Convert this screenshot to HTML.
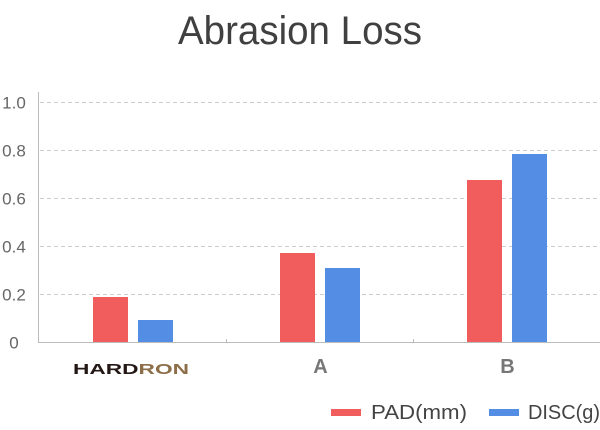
<!DOCTYPE html>
<html>
<head>
<meta charset="utf-8">
<style>
  html, body { margin: 0; padding: 0; background: #ffffff; }
  body { width: 600px; height: 430px; overflow: hidden; }
  svg { display: block; }
</style>
</head>
<body>
<svg width="600" height="430" viewBox="0 0 600 430" xmlns="http://www.w3.org/2000/svg">
  <rect x="0" y="0" width="600" height="430" fill="#ffffff"/>

  <!-- Title -->
  <text x="178" y="44" font-family="Liberation Sans, sans-serif" font-size="40" fill="#404040" textLength="244" lengthAdjust="spacingAndGlyphs">Abrasion Loss</text>

  <!-- Grid lines -->
  <g stroke="#cccccc" stroke-width="1" stroke-dasharray="4 3">
    <line x1="40" y1="102.5" x2="600" y2="102.5"/>
    <line x1="40" y1="150.5" x2="600" y2="150.5"/>
    <line x1="40" y1="198.5" x2="600" y2="198.5"/>
    <line x1="40" y1="246.5" x2="600" y2="246.5"/>
    <line x1="40" y1="294.5" x2="600" y2="294.5"/>
  </g>

  <!-- Y axis -->
  <line x1="38.5" y1="92" x2="38.5" y2="342.5" stroke="#bbbbbb" stroke-width="1"/>
  <!-- X axis -->
  <line x1="38" y1="342.5" x2="600" y2="342.5" stroke="#bbbbbb" stroke-width="1"/>
  <g stroke="#bbbbbb" stroke-width="1">
    <line x1="226.5" y1="339" x2="226.5" y2="342"/>
    <line x1="413.5" y1="339" x2="413.5" y2="342"/>
  </g>

  <!-- Y tick labels -->
  <g font-family="Liberation Sans, sans-serif" font-size="17" fill="#666666" text-anchor="middle">
    <text x="14" y="108.5">1.0</text>
    <text x="14" y="156.5">0.8</text>
    <text x="14" y="204.5">0.6</text>
    <text x="14" y="252.5">0.4</text>
    <text x="14" y="300.5">0.2</text>
    <text x="14" y="348.5">0</text>
  </g>

  <!-- Bars -->
  <g fill="#f15d5d">
    <rect x="93" y="297" width="35" height="45"/>
    <rect x="280" y="253" width="35" height="89"/>
    <rect x="467" y="180" width="35" height="162"/>
  </g>
  <g fill="#548ee4">
    <rect x="138" y="320" width="35" height="22"/>
    <rect x="325" y="268" width="35" height="74"/>
    <rect x="512" y="154" width="35" height="188"/>
  </g>

  <!-- Category labels -->
  <text x="73" y="374" font-family="Liberation Sans, sans-serif" font-weight="bold" font-size="15" textLength="116" lengthAdjust="spacingAndGlyphs"><tspan fill="#231815">HARD</tspan><tspan fill="#8c6e48">RON</tspan></text>
  <g font-family="Liberation Sans, sans-serif" font-weight="bold" font-size="20" fill="#777777" text-anchor="middle">
    <text x="320.5" y="373">A</text>
    <text x="507.5" y="373">B</text>
  </g>

  <!-- Legend -->
  <rect x="331" y="409" width="30" height="7" fill="#f15d5d"/>
  <text x="371" y="419" font-family="Liberation Sans, sans-serif" font-size="20" fill="#444444" textLength="96" lengthAdjust="spacingAndGlyphs">PAD(mm)</text>
  <rect x="489" y="409" width="30" height="7" fill="#548ee4"/>
  <text x="528" y="419" font-family="Liberation Sans, sans-serif" font-size="20" fill="#444444" textLength="72" lengthAdjust="spacingAndGlyphs">DISC(g)</text>
</svg>
</body>
</html>
